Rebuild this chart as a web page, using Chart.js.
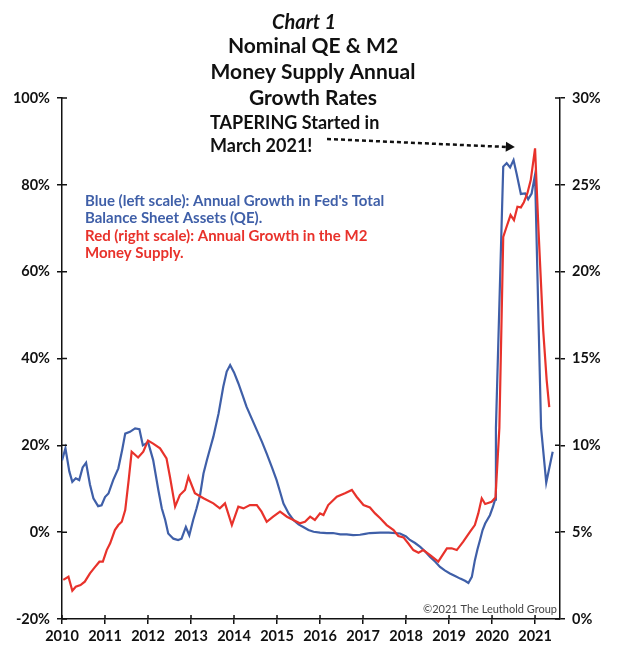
<!DOCTYPE html>
<html>
<head>
<meta charset="utf-8">
<script src="https://cdn.jsdelivr.net/npm/chart.js@4.4.1/dist/chart.umd.min.js"></script>
<style>
  html, body { margin: 0; padding: 0; background: #ffffff; }
  #wrap { width: 630px; height: 667px; position: relative; }
</style>
</head>
<body>
<div id="wrap"><canvas id="c" width="630" height="667"></canvas></div>
<script>
// ---- Data ----
// Blue: annual growth in Fed's total balance sheet assets (left scale, %)
const qeDates = [2010.00,2010.08,2010.17,2010.24,2010.32,2010.40,2010.48,2010.56,2010.65,2010.73,2010.84,2010.92,
  2011.00,2011.08,2011.19,2011.31,2011.40,2011.47,2011.58,2011.70,2011.80,2011.88,2011.95,
  2012.00,2012.12,2012.24,2012.32,2012.40,2012.47,2012.59,2012.70,2012.78,2012.88,2012.96,
  2013.05,2013.13,2013.21,2013.29,2013.37,2013.45,2013.52,2013.64,2013.75,2013.83,2013.91,
  2014.00,2014.10,2014.20,2014.29,2014.41,2014.53,2014.65,2014.76,2014.88,2014.99,
  2015.07,2015.15,2015.27,2015.38,2015.50,2015.61,2015.73,2015.85,
  2016.00,2016.16,2016.30,2016.47,2016.62,2016.77,2016.93,
  2017.05,2017.16,2017.40,2017.60,2017.86,
  2018.00,2018.09,2018.21,2018.33,2018.45,2018.56,2018.68,2018.79,2018.90,
  2019.02,2019.14,2019.26,2019.37,2019.45,2019.53,2019.60,2019.66,2019.72,2019.78,2019.84,2019.95,
  2020.02,2020.07,2020.09,2020.26,2020.34,2020.42,2020.50,2020.57,2020.67,2020.77,2020.84,2020.92,
  2021.00,2021.14,2021.26,2021.41];
const qeValues = [16.5,19.3,14.0,11.6,12.4,12.0,14.9,16.0,11.0,7.8,6.0,6.2,
  8.1,8.9,12.0,14.7,19.0,22.7,23.1,23.9,23.7,20.0,20.4,
  20.8,16.6,9.7,5.5,2.8,-0.3,-1.5,-1.8,-1.5,1.2,-0.7,
  2.8,5.5,8.5,13.5,16.6,19.5,22.0,27.3,33.5,37.0,38.5,
  36.8,34.3,31.5,28.9,26.2,23.5,20.8,18.1,15.0,12.0,
  9.3,6.6,4.3,2.8,1.8,1.2,0.5,0.1,
  -0.1,-0.2,-0.2,-0.5,-0.5,-0.7,-0.6,
  -0.4,-0.2,-0.1,-0.1,-0.3,
  -1.0,-1.8,-2.5,-3.4,-4.5,-5.7,-6.8,-8.0,-8.8,
  -9.5,-10.1,-10.7,-11.2,-11.7,-10.3,-6.5,-4.0,-1.8,0.5,2.0,3.9,
  5.8,7.5,24.0,84.2,85.0,84.0,85.7,82.6,77.9,78.0,76.7,78.0,
  82.3,24.0,11.4,18.5];

// Red: annual growth in the M2 money supply (right scale, %)
const m2Dates = [2010.03,2010.15,2010.24,2010.32,2010.43,2010.53,2010.65,2010.77,2010.87,2010.95,
  2011.04,2011.12,2011.23,2011.31,2011.39,2011.47,2011.55,2011.62,2011.77,2011.89,
  2012.00,2012.12,2012.28,2012.43,2012.51,2012.63,2012.74,2012.86,2012.94,
  2013.09,2013.29,2013.52,2013.67,2013.79,2013.95,
  2014.10,2014.22,2014.37,2014.53,2014.64,2014.76,2014.91,
  2015.07,2015.23,2015.38,2015.53,2015.65,2015.77,2015.88,
  2016.00,2016.08,2016.19,2016.39,2016.58,2016.74,2016.85,
  2017.01,2017.16,2017.28,2017.40,2017.55,2017.71,2017.82,2017.94,
  2018.05,2018.17,2018.29,2018.40,2018.56,2018.75,2018.95,
  2019.06,2019.18,2019.33,2019.49,2019.60,2019.68,2019.76,2019.84,2019.99,
  2020.08,2020.17,2020.26,2020.34,2020.43,2020.51,2020.59,2020.67,2020.74,2020.82,2020.90,
  2021.00,2021.08,2021.19,2021.27,2021.33];
const m2Values = [2.25,2.43,1.63,1.86,1.95,2.15,2.63,3.0,3.3,3.3,
  3.97,4.36,5.12,5.41,5.6,6.27,8.0,9.63,9.3,9.63,
  10.27,10.1,9.83,9.25,8.19,6.47,7.14,7.43,8.19,
  7.24,6.95,6.66,6.37,6.66,5.41,
  6.47,6.37,6.56,6.56,6.18,5.6,5.89,
  6.18,5.89,5.7,5.51,5.6,5.89,5.7,
  6.08,5.99,6.56,7.04,7.24,7.43,7.04,
  6.56,6.42,6.08,5.8,5.41,5.12,4.78,4.7,
  4.36,3.97,3.82,3.97,3.68,3.3,4.07,
  4.07,3.97,4.45,5.03,5.41,6.08,6.95,6.62,6.75,
  7.0,11.0,22.0,22.6,23.26,22.97,23.74,23.7,24.0,24.5,25.27,
  27.1,22.4,16.6,13.76,12.2];

const yearTicks = [2010,2011,2012,2013,2014,2015,2016,2017,2018,2019,2020,2021];
const leftTicks = [-20,0,20,40,60,80,100];
const rightTicks = [0,5,10,15,20,25,30];

const titleLines = ['Nominal QE & M2','Money Supply Annual','Growth Rates'];
const titleItalic = 'Chart 1';
const noteLines = ['TAPERING Started in','March 2021!'];
const legendBlue = ["Blue (left scale): Annual Growth in Fed's Total","Balance Sheet Assets (QE)."];
const legendRed = ["Red (right scale): Annual Growth in the M2","Money Supply."];
const credit = '\u00A92021 The Leuthold Group';
const arrowTarget = {x: 2020.53, y: 88.7};

const BLUE = '#3f5fa8';
const RED = '#e8322b';
const FONT = 'Lato, "Open Sans", "Liberation Sans", sans-serif';

const pts = (xs, ys) => xs.map((x, i) => ({x: x, y: ys[i]}));

const decor = {
  id: 'decor',
  afterDraw(chart) {
    const ctx = chart.ctx;
    const xs = chart.scales.x, yl = chart.scales.yL, yr = chart.scales.yR;
    const area = chart.chartArea;
    ctx.save();
    // inner tick marks
    ctx.strokeStyle = '#111';
    ctx.lineWidth = 1.5;
    ctx.beginPath();
    leftTicks.forEach(v => { const y = yl.getPixelForValue(v); ctx.moveTo(area.left, y); ctx.lineTo(area.left + 5, y); });
    rightTicks.forEach(v => { const y = yr.getPixelForValue(v); ctx.moveTo(area.right, y); ctx.lineTo(area.right - 5, y); });
    yearTicks.forEach(v => { const x = xs.getPixelForValue(v); ctx.moveTo(x, area.bottom); ctx.lineTo(x, area.bottom - 4); });
    ctx.stroke();

    // title
    ctx.fillStyle = '#111';
    ctx.textAlign = 'center';
    ctx.textBaseline = 'middle';
    ctx.font = 'italic bold 20px ' + FONT;
    ctx.fillText(titleItalic, 304, 23);
    ctx.font = 'bold 21px ' + FONT;
    titleLines.forEach((t, i) => ctx.fillText(t, 313, 46 + i * 26));

    // tapering note
    ctx.textAlign = 'left';
    ctx.font = 'bold 18px ' + FONT;
    noteLines.forEach((t, i) => ctx.fillText(t, 210, 123 + i * 23));

    // dashed arrow
    const ex = xs.getPixelForValue(arrowTarget.x);
    const ey = yl.getPixelForValue(arrowTarget.y);
    const sx = 327, sy = 139;
    ctx.strokeStyle = '#111';
    ctx.lineWidth = 2.5;
    ctx.setLineDash([4, 3]);
    ctx.beginPath();
    ctx.moveTo(sx, sy);
    ctx.lineTo(ex - 6, ey);
    ctx.stroke();
    ctx.setLineDash([]);
    const ang = Math.atan2(ey - sy, ex - sx);
    ctx.fillStyle = '#111';
    ctx.beginPath();
    ctx.moveTo(ex, ey);
    ctx.lineTo(ex - 9 * Math.cos(ang) + 5 * Math.sin(ang), ey - 9 * Math.sin(ang) - 5 * Math.cos(ang));
    ctx.lineTo(ex - 9 * Math.cos(ang) - 5 * Math.sin(ang), ey - 9 * Math.sin(ang) + 5 * Math.cos(ang));
    ctx.closePath();
    ctx.fill();

    // legend text
    ctx.font = 'bold 15px ' + FONT;
    ctx.fillStyle = BLUE;
    legendBlue.forEach((t, i) => ctx.fillText(t, 85, 201 + i * 17.5));
    ctx.fillStyle = RED;
    legendRed.forEach((t, i) => ctx.fillText(t, 85, 236 + i * 17.5));

    // credit
    ctx.font = '11px ' + FONT;
    ctx.fillStyle = '#444';
    ctx.textAlign = 'right';
    ctx.fillText(credit, area.right - 3, 609);
    ctx.restore();
  }
};

const tickFont = { family: FONT, weight: 'bold', size: 14.5 };

new Chart(document.getElementById('c'), {
  type: 'line',
  data: {
    datasets: [
      { label: 'M2', data: pts(m2Dates, m2Values), yAxisID: 'yR', borderColor: RED, borderWidth: 2.2,
        pointRadius: 0, tension: 0, fill: false },
      { label: 'QE', data: pts(qeDates, qeValues), yAxisID: 'yL', borderColor: BLUE, borderWidth: 2.2,
        pointRadius: 0, tension: 0, fill: false }
    ]
  },
  options: {
    responsive: false,
    animation: false,
    events: [],
    layout: { padding: { top: 98, left: 0, right: 0, bottom: 0 } },
    plugins: { legend: { display: false }, tooltip: { enabled: false }, title: { display: false } },
    scales: {
      x: {
        type: 'linear', min: 2010, max: 2021.58,
        afterFit(s) { s.height = 48; },
        afterBuildTicks(s) { s.ticks = yearTicks.map(v => ({value: v})); },
        ticks: { callback: v => String(v), color: '#111', font: tickFont, padding: 4, maxRotation: 0, autoSkip: false },
        grid: { drawOnChartArea: false, tickLength: 5, color: '#111', lineWidth: 1.5 },
        border: { display: true, color: '#111', width: 1.5 }
      },
      yL: {
        position: 'left', min: -20, max: 100,
        afterFit(s) { s.width = 62; },
        afterBuildTicks(s) { s.ticks = leftTicks.map(v => ({value: v})); },
        ticks: { callback: v => v + '%', color: '#111', font: tickFont, padding: 7 },
        grid: { drawOnChartArea: false, tickLength: 5, color: '#111', lineWidth: 1.5 },
        border: { display: true, color: '#111', width: 1.5 }
      },
      yR: {
        position: 'right', min: 0, max: 30,
        afterFit(s) { s.width = 70; },
        afterBuildTicks(s) { s.ticks = rightTicks.map(v => ({value: v})); },
        ticks: { callback: v => v + '%', color: '#111', font: tickFont, padding: 7 },
        grid: { drawOnChartArea: false, tickLength: 5, color: '#111', lineWidth: 1.5 },
        border: { display: true, color: '#111', width: 1.5 }
      }
    }
  },
  plugins: [decor]
});
</script>
</body>
</html>
